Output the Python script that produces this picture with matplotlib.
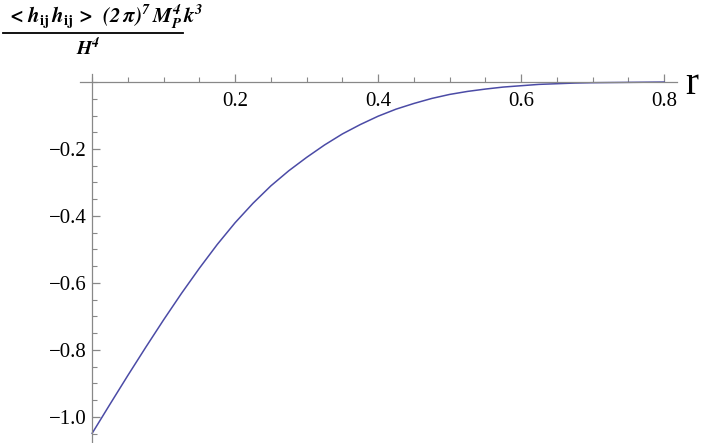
import matplotlib.pyplot as plt
from matplotlib.ticker import MultipleLocator, FixedLocator

SERIF = 'Liberation Serif'
plt.rcParams['mathtext.fontset'] = 'stix'

# values
r = [0.0, 0.025, 0.05, 0.075, 0.1, 0.125, 0.15, 0.175, 0.2, 0.225,
     0.25, 0.275, 0.3, 0.325, 0.35, 0.375, 0.4, 0.425, 0.45, 0.475,
     0.5, 0.525, 0.55, 0.575, 0.6, 0.625, 0.65, 0.675, 0.7, 0.75, 0.8]
hh = [-1.049, -0.962, -0.876, -0.792, -0.710, -0.631, -0.556, -0.485, -0.420, -0.362,
      -0.310, -0.265, -0.225, -0.188, -0.155, -0.127, -0.102, -0.081, -0.064, -0.049,
      -0.037, -0.028, -0.021, -0.015, -0.011, -0.007, -0.005, -0.003, -0.002, -0.001, 0.0]

xticks = [0.2, 0.4, 0.6, 0.8]
yticks = [-1.0, -0.8, -0.6, -0.4, -0.2]

fig = plt.figure(figsize=(7.06, 4.43), dpi=100)
ax = fig.add_axes([80/706, 0.0, (677-80)/706, (443-74)/443])

ax.plot(r, hh, color='#4b4ba6', lw=1.1)

ax.set_xlim(-0.017, 0.818)
ax.set_ylim(-1.078, 0.024)

for s in ['top', 'right']:
    ax.spines[s].set_visible(False)
ax.spines['left'].set_position(('data', 0))
ax.spines['bottom'].set_position(('data', 0))
for s in ['left', 'bottom']:
    ax.spines[s].set_color('#888888')
    ax.spines[s].set_linewidth(0.9)

ax.xaxis.set_major_locator(FixedLocator(xticks))
ax.yaxis.set_major_locator(FixedLocator(yticks))
ax.xaxis.set_minor_locator(MultipleLocator(0.05))
ax.yaxis.set_minor_locator(MultipleLocator(0.05))
ax.set_xticklabels([f'{v:.1f}' for v in xticks], family=SERIF, fontsize=15)
ax.set_yticklabels([f'\u2212{abs(v):.1f}' for v in yticks], family=SERIF, fontsize=15)

ax.tick_params(which='both', direction='in', color='#888888')
ax.tick_params(which='major', length=6, width=0.9)
ax.tick_params(which='minor', length=3.5, width=0.8)
ax.tick_params(axis='x', pad=7)
ax.tick_params(axis='y', pad=4)

fig.text(692/706, 1 - 84/443, 'r', family=SERIF, fontsize=28, ha='center', va='center')

fig.text(7/706, 1 - 17/443, r'$\mathbfit{<\,h_{\mathbf{ij}}\,h_{\mathbf{ij}}\,>\;\;(2\,\pi)^7\,M_P^{\,4}\,k^3}$',
         fontsize=15, ha='left', va='center')
fig.add_artist(plt.Line2D([3/706, 183/706], [1 - 33/443, 1 - 33/443], color='black', lw=1.3))
fig.text(88/706, 1 - 48/443, r'$\mathbfit{H^4}$', fontsize=14, ha='center', va='center')

fig.savefig('out.png', dpi=100)
